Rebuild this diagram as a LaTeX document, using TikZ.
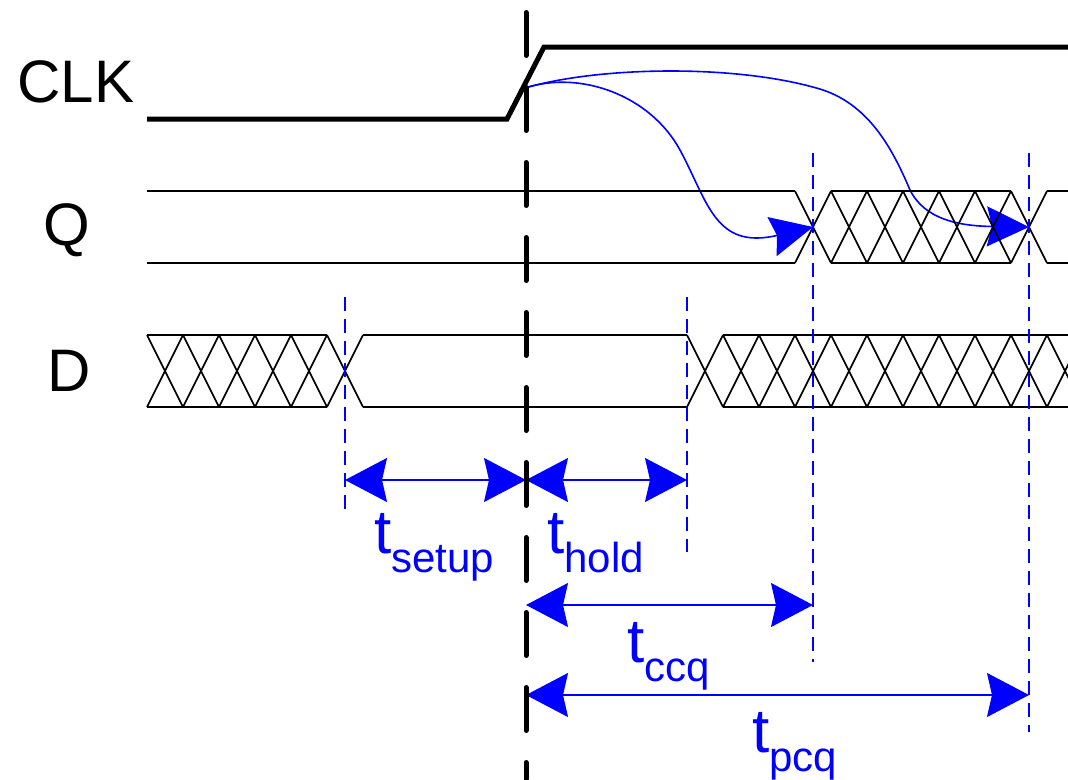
\documentclass[tikz,border=0pt]{standalone}
\usepackage{fontspec}
\setmainfont{Liberation Sans}
\usetikzlibrary{arrows.meta}
\tikzset{
 clock/.style={line width=5pt,line join=miter},
 sig/.style={line width=1.6pt},
 edgeline/.style={line width=5pt,line cap=round,dash pattern=on 43pt off 32pt},
 guide/.style={blue,line width=1.6pt,dash pattern=on 14pt off 8pt},
 span/.style={blue,line width=1.6pt,arrows={Stealth[length=42pt,width=44pt,inset=5pt]-Stealth[length=42pt,width=44pt,inset=5pt]}},
 cause/.style={blue,line width=1.6pt,arrows={-Stealth[length=42pt,width=40pt,inset=5pt]}},
 signame/.style={anchor=base,inner sep=0,font=\fontsize{60}{64}\selectfont},
 tlabel/.style={anchor=base west,inner sep=0,text=blue,font=\fontsize{62}{66}\selectfont}
}
\newcommand\tsub[1]{t\raisebox{-19pt}{\fontsize{42}{46}\selectfont #1}}

\begin{document}
\begin{tikzpicture}[x=1pt,y=-1pt]
\path[use as bounding box] (0,0) rectangle (1068,779);
\clip (0,0) rectangle (1068,779);
% signal names
\node[signame] (clk) at (76,102) {CLK};
\node[signame] (q) at (67,245) {Q};
\node[signame] (d) at (69,391) {D};
% clock to Q
\coordinate (launch) at (525,88);
\coordinate (qa) at (813,227);
\coordinate (qb) at (1029,227);
\draw[cause] (launch) .. controls (580,70) and (650,95) .. (680,150)
  .. controls (708,202) and (715,250) .. (qa);
\draw[cause] (launch) .. controls (600,66) and (740,64) .. (823,90)
  .. controls (870,106) and (893,150) .. (910,190)
  .. controls (925,220) and (960,226) .. (qb);
% CLK
\draw[clock] (147,119) -- (507,119) -- (544,47) -- (1068,47);
% Q
\draw[sig] (147,191) -- (795,191) (147,263) -- (795,263);
\draw[sig] (831,191) -- (1011,191) (831,263) -- (1011,263);
\draw[sig] (1047,191) -- (1068,191) (1047,263) -- (1068,263);
\foreach \k in {18,...,24}
  \draw[sig] ({147+36*\k},191) -- ({183+36*\k},263) ({147+36*\k},263) -- ({183+36*\k},191);
% D
\draw[sig] (147,335) -- (327,335) (147,407) -- (327,407);
\draw[sig] (363,335) -- (687,335) (363,407) -- (687,407);
\draw[sig] (723,335) -- (1068,335) (723,407) -- (1068,407);
\foreach \k in {0,...,5}
  \draw[sig] ({147+36*\k},335) -- ({183+36*\k},407) ({147+36*\k},407) -- ({183+36*\k},335);
\foreach \k in {15,...,25}
  \draw[sig] ({147+36*\k},335) -- ({183+36*\k},407) ({147+36*\k},407) -- ({183+36*\k},335);
% timing marks
\coordinate (su) at (345,480);
\coordinate (e1) at (526,480);
\coordinate (ho) at (687,480);
\coordinate (e2) at (526,605);
\coordinate (cq) at (813,605);
\coordinate (e3) at (526,695);
\coordinate (pq) at (1029,695);
\draw[guide] (345,297) -- (345,515);
\draw[guide] (687,297) -- (687,552);
\draw[guide] (813,153) -- (813,662);
\draw[guide] (1029,153) -- (1029,732);
\draw[span] (su) -- (e1);
\draw[span] (e1) -- (ho);
\draw[span] (e2) -- (cq);
\draw[span] (e3) -- (pq);
\node[tlabel] (tsu) at (374,553) {\tsub{setup}};
\node[tlabel] (tho) at (547,553) {\tsub{hold}};
\node[tlabel] (tcc) at (627,662) {\tsub{ccq}};
\node[tlabel] (tpc) at (752,752) {\tsub{pcq}};
% clock edge
\coordinate (edgetop) at (526,12.5);
\coordinate (edgebot) at (526,779);
\draw[edgeline] (edgetop) -- (edgebot);
\end{tikzpicture}
\end{document}
